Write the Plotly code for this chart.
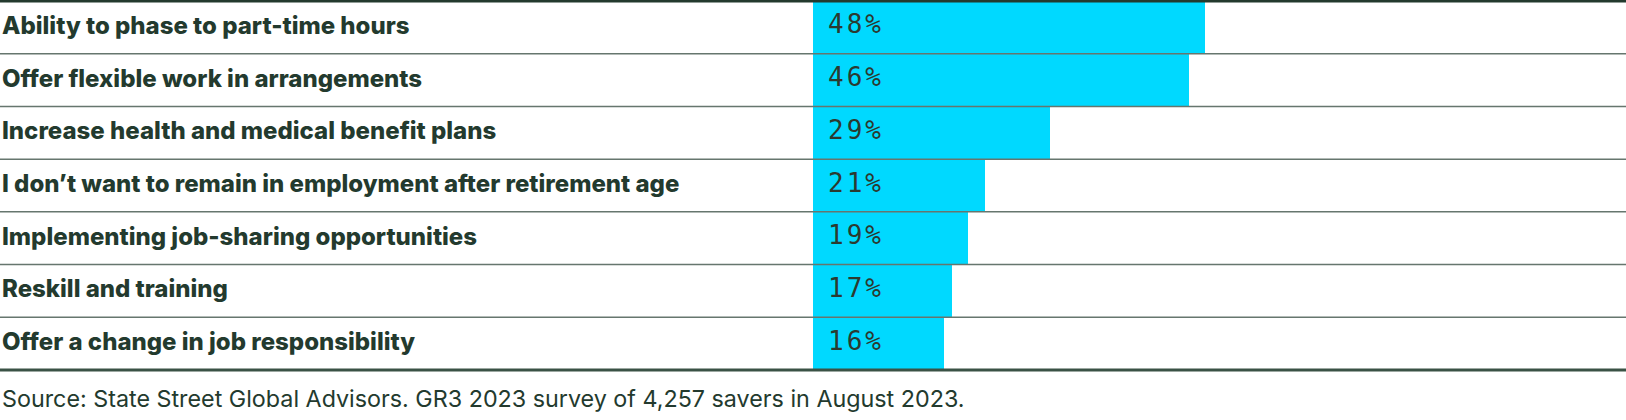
import plotly.graph_objects as go

categories = [
    "Ability to phase to part-time hours",
    "Offer flexible work in arrangements",
    "Increase health and medical benefit plans",
    "I don\u2019t want to remain in employment after retirement age",
    "Implementing job-sharing opportunities",
    "Reskill and training",
    "Offer a change in job responsibility",
]
values = [48, 46, 29, 21, 19, 17, 16]
source = "Source: State Street Global Advisors. GR3 2023 survey of 4,257 savers in August 2023."

DARK = "#233a2e"
CYAN = "#00D9FF"
W, H = 1626, 420
T, B = 1, 50
plot_h = H - T - B

idx = list(range(len(categories)))
fig = go.Figure()
fig.add_trace(go.Bar(
    x=values, y=idx, orientation="h", width=1.0,
    marker=dict(color=CYAN, line=dict(width=0)),
    hoverinfo="skip",
))

ann = []
for i, (c, v) in enumerate(zip(categories, values)):
    ann.append(dict(x=0, xref="paper", y=i, yref="y", text=c, showarrow=False,
                    xanchor="left", yanchor="middle", yshift=2,
                    font=dict(family="Inter", size=24, color=DARK, weight=800)))
    ann.append(dict(x=0, xref="x", y=i, yref="y",
                    text=f'<span style="letter-spacing:3px">{v}%</span>', showarrow=False,
                    xanchor="left", yanchor="middle", xshift=13, yshift=3,
                    font=dict(family="DejaVu Sans Mono", size=26, color="#2b3a30")))
ann.append(dict(x=0, xref="paper", y=-(398 - 370) / plot_h, yref="paper", text=source,
                showarrow=False, xanchor="left", yanchor="middle",
                font=dict(family="Inter", size=23.3, color=DARK)))

shapes = []
shapes.append(dict(type="line", xref="x", yref="paper", x0=0, x1=0, y0=0, y1=1,
                   line=dict(color="#c5cdc9", width=1.5), layer="below"))
for i in range(len(categories) - 1):
    shapes.append(dict(type="line", xref="paper", yref="y", x0=0, x1=1, y0=i + 0.5, y1=i + 0.5,
                       line=dict(color="#66766e", width=1.5), layer="above"))
shapes.append(dict(type="line", xref="paper", yref="paper", x0=0, x1=1, y0=1, y1=1,
                   line=dict(color=DARK, width=3), layer="above"))
shapes.append(dict(type="line", xref="paper", yref="paper", x0=0, x1=1, y0=0, y1=0,
                   line=dict(color="#3a5245", width=3), layer="above"))

fig.update_layout(
    width=W, height=H,
    margin=dict(l=0, r=0, t=T, b=B),
    paper_bgcolor="white", plot_bgcolor="white",
    showlegend=False,
    xaxis=dict(domain=[813 / W, 1], range=[0, 99.5], visible=False, fixedrange=True),
    yaxis=dict(range=[6.5, -0.5], visible=False, fixedrange=True),
    annotations=ann, shapes=shapes,
    bargap=0,
)
fig.write_html("out.html")
